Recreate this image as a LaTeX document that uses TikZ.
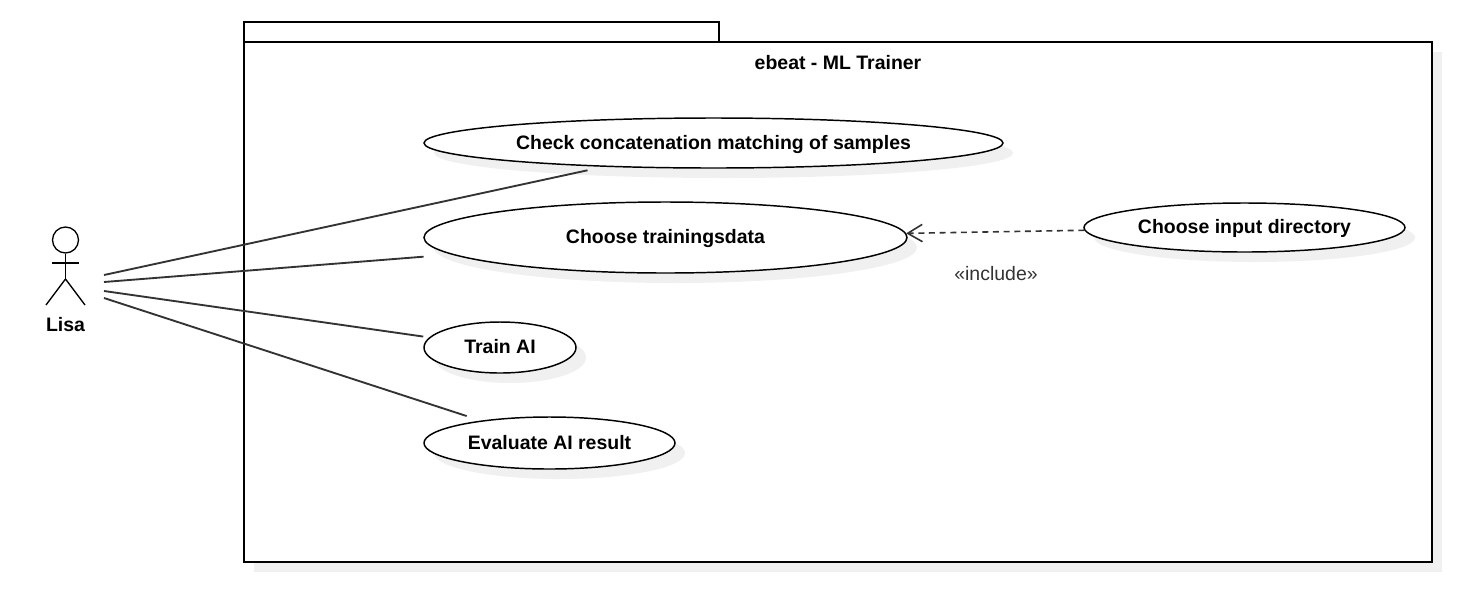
\documentclass[tikz,border=0pt]{standalone}
\usepackage{fontspec}
\setmainfont{Liberation Sans}
\usetikzlibrary{positioning, shapes.geometric, shadows, arrows.meta}
\definecolor{umlshadow}{HTML}{F0F0F0}
\definecolor{umlline}{HTML}{333333}

\begin{document}
\begin{tikzpicture}[x=0.75pt, y=-0.75pt, line width=1.1pt,
            usecase/.style ={ellipse, draw, fill=white, inner sep=0pt, text height=9.5pt, text depth=0pt,
            font=\bfseries\fontsize{14.6}{16}\selectfont,
            drop shadow={shadow xshift=7.5pt, shadow yshift=-7.5pt, fill=umlshadow, opacity=1}},
            assoc/.style ={umlline, line width=1.4pt},
            stick/.style ={line width=1pt}]
        \useasboundingbox (0, 0) rectangle (1458, 594);

        %paquete
        \node[draw, fill=white, inner sep=0pt, minimum width=356.25pt, minimum height=15pt] (tab) at (481.5, 32) {};
        \node[draw, fill=white, inner sep=0pt, minimum width=891pt, minimum height=390pt,
            drop shadow={shadow xshift=7.5pt, shadow yshift=-7.5pt, fill=umlshadow, opacity=1}] (system) at (838, 302) {};
        \node[font=\bfseries\fontsize{14.6}{16}\selectfont] (title) at (838, 63) {ebeat - ML Trainer};

        %casos de uso
        \node[usecase, minimum width=434.25pt, minimum height=37.5pt] (check) at (713.5, 143) {Check concatenation matching of samples};
        \node[usecase, minimum width=362.25pt, minimum height=53.25pt] (choose) at (665.5, 237.5) {Choose trainingsdata};
        \node[usecase, minimum width=114pt, minimum height=38.25pt] (train) at (500, 347.5) {Train AI};
        \node[usecase, minimum width=188.25pt, minimum height=39pt] (evaluate) at (549.5, 443) {Evaluate AI result};
        \node[usecase, minimum width=240.75pt, minimum height=36.75pt] (input) at (1244.5, 227.5) {Choose input directory};

        %actor
        \node[draw, circle, stick, inner sep=0pt, minimum size=19.5pt] (head) at (65.5, 240) {};
        \coordinate (hip) at (65.5, 279);
        \coordinate (armL) at (52, 263);
        \coordinate (armR) at (79, 263);
        \coordinate (legL) at (46, 305);
        \coordinate (legR) at (85, 305);
        \node[font=\bfseries\fontsize{14.6}{16}\selectfont] (lisa) at (65.5, 325) {Lisa};
        \draw[stick] (head) -- (hip);
        \draw[stick] (armL) -- (armR);
        \draw[stick] (legL) -- (hip) -- (legR);

        \coordinate (lisaA) at (104, 275);
        \coordinate (lisaB) at (104, 282);
        \coordinate (lisaC) at (104, 291);
        \coordinate (lisaD) at (104, 298);

        \path[assoc] (lisaA) edge [shorten >=12.3pt] (check);
        \path[assoc] (lisaB) edge [shorten >=21pt] (choose);
        \path[assoc] (lisaC) edge [shorten >=4.5pt] (train);
        \path[assoc] (lisaD) edge [shorten >=11pt] (evaluate);

        %include
        \draw[umlline, line width=1.2pt, dash pattern=on 4.5pt off 3.5pt, -{Straight Barb[length=11pt, width=13pt]}] (input) -- (choose);
        \node[text=umlline, font=\fontsize{14.6}{16}\selectfont] (include) at (996, 274) {«include»};
    \end{tikzpicture}
\end{document}
